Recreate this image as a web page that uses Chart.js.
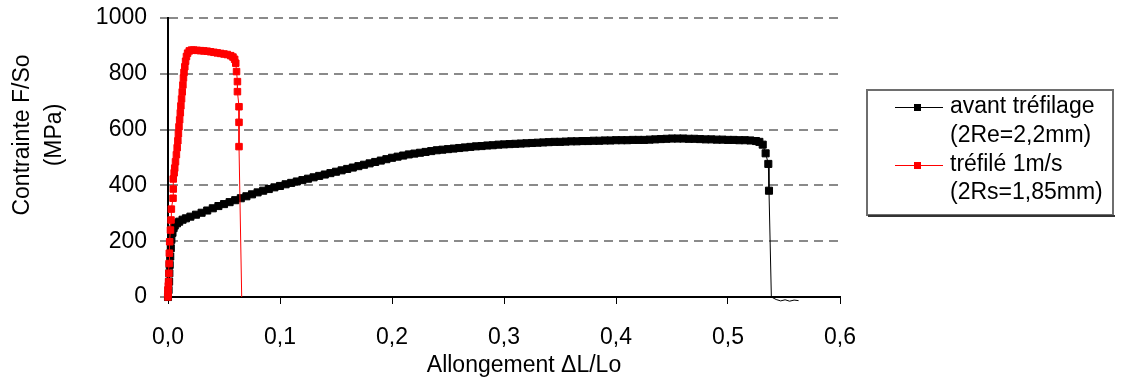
<!DOCTYPE html>
<html>
<head>
<meta charset="utf-8">
<title>Contrainte - allongement</title>
<script src="https://cdn.jsdelivr.net/npm/chart.js@4.4.1/dist/chart.umd.min.js"></script>
<style>
  html, body { margin: 0; padding: 0; background: #fff; }
  canvas { display: block; }
</style>
</head>
<body>
<canvas id="chart" width="1134" height="382"></canvas>
<script>
// avant tréfilage (2Re=2,2mm)
const xAvant = [
  0, 0.0005, 0.001, 0.0012, 0.0015, 0.002, 0.0025, 0.003, 0.004, 0.005,
  0.006, 0.008, 0.010, 0.013, 0.016, 0.020, 0.025,
  0.030, 0.035, 0.040, 0.045, 0.050, 0.055, 0.060, 0.065, 0.070, 0.075,
  0.080, 0.085, 0.090, 0.095, 0.100, 0.105, 0.110, 0.115, 0.120, 0.125,
  0.130, 0.135, 0.140, 0.145, 0.150, 0.155, 0.160, 0.165, 0.170, 0.175,
  0.180, 0.185, 0.190, 0.195, 0.200, 0.205, 0.210, 0.215, 0.220, 0.225,
  0.230, 0.235, 0.240, 0.245, 0.250, 0.255, 0.260, 0.265, 0.270, 0.275,
  0.280, 0.285, 0.290, 0.295, 0.300, 0.305, 0.310, 0.315, 0.320, 0.325,
  0.330, 0.335, 0.340, 0.345, 0.350, 0.355, 0.360, 0.365, 0.370, 0.375,
  0.380, 0.385, 0.390, 0.395, 0.400, 0.405, 0.410, 0.415, 0.420, 0.425,
  0.430, 0.435, 0.440, 0.445, 0.450, 0.455, 0.460, 0.465, 0.470, 0.475,
  0.480, 0.485, 0.490, 0.495, 0.500, 0.505, 0.510, 0.515, 0.520, 0.525,
  0.528, 0.531, 0.5336, 0.536, 0.5366, 0.5387, 0.543, 0.547, 0.551, 0.555, 0.559, 0.563
];
const yAvant = [
  0, 25, 55, 85, 115, 145, 175, 205, 230, 247,
  256, 264, 270, 277, 282, 288, 295,
  302, 310, 318, 326, 333, 340, 347, 354, 361, 368,
  375, 381, 387, 393, 398, 404, 409, 414, 419, 424,
  429, 434, 439, 444, 449, 454, 459, 464, 469, 474,
  479, 484, 489, 494, 499, 503, 507, 511, 514, 517,
  520, 523, 526, 528, 530, 532, 534, 536, 538, 540,
  541, 543, 544, 546, 547, 548, 549, 550, 551, 552,
  553, 554, 555, 556, 556, 557, 558, 558, 559, 559,
  560, 560, 561, 561, 562, 562, 562, 563, 563, 563,
  564, 565, 566, 567, 568, 568, 568, 567, 567, 566,
  565, 565, 564, 564, 563, 563, 562, 562, 561, 559,
  556, 546, 515, 477, 381, 0, -9, -14, -10, -15, -11, -13
];

// tréfilé 1m/s (2Rs=1,85mm)
const xTrefile = [
  0, 0, 0, 0.0003, 0.0005, 0.0008, 0.001, 0.0012, 0.0015, 0.0022,
  0.0027, 0.003, 0.0045, 0.0047, 0.0047, 0.0055, 0.006, 0.0067, 0.0075, 0.0082,
  0.0088, 0.0093, 0.0098, 0.0104, 0.011, 0.0115, 0.0121, 0.0127, 0.0133, 0.0138,
  0.0143, 0.015, 0.0157, 0.0165, 0.0175, 0.019, 0.021, 0.023, 0.026, 0.029,
  0.032, 0.035, 0.038, 0.041, 0.044, 0.047, 0.050, 0.053, 0.056, 0.058,
  0.0595, 0.0605, 0.0612, 0.062, 0.062, 0.0634, 0.0634, 0.0634, 0.0658
];
const yTrefile = [
  0, 12, 25, 40, 55, 85, 120, 157, 198, 240,
  276, 315, 354, 387, 423, 445, 462, 485, 510, 535,
  560, 585, 610, 635, 660, 685, 710, 735, 760, 785,
  805, 825, 845, 862, 874, 882, 885, 885, 884, 883,
  882, 881, 879, 877, 875, 873, 871, 869, 865, 860,
  852, 838, 808, 772, 736, 682, 626, 539, 0
];

const xTickLabels = ['0,0', '0,1', '0,2', '0,3', '0,4', '0,5', '0,6'];
const yTickLabels = ['0', '200', '400', '600', '800', '1000'];
const labelAvant = ['avant tréfilage', '(2Re=2,2mm)'];
const labelTrefile = ['tréfilé 1m/s', '(2Rs=1,85mm)'];
const xTitle = 'Allongement ΔL/Lo';
const yTitle = ['Contrainte F/So', '(MPa)'];

const FONT = '"Liberation Sans", Arial, sans-serif';

const toPoints = (xs, ys) => xs.map((x, i) => ({ x: x, y: ys[i] }));
const markerSize = r => c => (c.raw && c.raw.x > 0.05 && c.raw.y <= 0) ? 0 : r;

// axis titles and the boxed legend, drawn on top
const overlay = {
  id: 'overlay',
  afterDraw(chart) {
    const c = chart.ctx;
    c.save();
    c.font = '23px ' + FONT;
    c.fillStyle = '#000';
    c.textAlign = 'center';
    c.textBaseline = 'middle';
    c.fillText(xTitle, 524, 366);
    [23, 55].forEach((x, i) => {
      c.save();
      c.translate(x, 135);
      c.rotate(-Math.PI / 2);
      c.fillText(yTitle[i], 0, 0);
      c.restore();
    });

    // legend box
    c.fillStyle = '#fff';
    c.fillRect(867, 90, 246, 125);
    c.strokeStyle = '#6e6e6e';
    c.lineWidth = 2;
    c.strokeRect(867, 90, 246, 125);
    c.fillStyle = '#333';
    c.fillRect(868, 215, 247, 2);

    const entries = [
      { lines: labelAvant, ys: [107, 136], ds: chart.data.datasets[0] },
      { lines: labelTrefile, ys: [165, 193], ds: chart.data.datasets[1] }
    ];
    entries.forEach(e => {
      const y = e.ys[0];
      c.strokeStyle = e.ds.borderColor;
      c.lineWidth = 1;
      c.beginPath();
      c.moveTo(895, y + 0.5);
      c.lineTo(943, y + 0.5);
      c.stroke();
      c.fillStyle = e.ds.pointBackgroundColor;
      c.fillRect(914, y - 3, 7, 7);
      c.fillStyle = '#000';
      c.textAlign = 'left';
      e.lines.forEach((t, i) => c.fillText(t, 950, e.ys[i]));
    });
    c.restore();
  }
};

new Chart(document.getElementById('chart'), {
  type: 'line',
  data: {
    datasets: [
      {
        label: labelAvant.join(' '),
        data: toPoints(xAvant, yAvant),
        borderColor: '#000',
        backgroundColor: '#000',
        pointBackgroundColor: '#000',
        pointBorderColor: '#000',
        borderWidth: 1,
        pointStyle: 'rect',
        pointRadius: markerSize(5),
        pointBorderWidth: 1,
        clip: false,
        order: 1
      },
      {
        label: labelTrefile.join(' '),
        data: toPoints(xTrefile, yTrefile),
        borderColor: '#ff0000',
        backgroundColor: '#ff0000',
        pointBackgroundColor: '#ff0000',
        pointBorderColor: '#ff0000',
        borderWidth: 1,
        pointStyle: 'rect',
        pointRadius: markerSize(4.6),
        pointBorderWidth: 1,
        clip: false,
        order: 0
      }
    ]
  },
  options: {
    responsive: false,
    animation: false,
    devicePixelRatio: 1,
    layout: { padding: { left: 0, right: 294, top: 18, bottom: 0 } },
    elements: { line: { tension: 0 } },
    plugins: {
      legend: { display: false },
      tooltip: { enabled: false }
    },
    scales: {
      x: {
        type: 'linear',
        min: 0,
        max: 0.6,
        afterFit: s => { s.height = 85; s.paddingLeft = 0; s.paddingRight = 0; },
        ticks: {
          stepSize: 0.1,
          padding: 20,
          color: '#000',
          font: { family: FONT, size: 23 },
          callback: (v, i) => xTickLabels[i]
        },
        grid: {
          drawOnChartArea: false,
          drawTicks: true,
          tickLength: 7,
          tickColor: '#000',
          tickWidth: 1
        },
        border: { display: true, color: '#000', width: 2 }
      },
      y: {
        min: 0,
        max: 1000,
        afterFit: s => { s.width = 168; s.paddingTop = 0; s.paddingBottom = 0; },
        ticks: {
          stepSize: 200,
          padding: 13,
          color: '#000',
          font: { family: FONT, size: 23 },
          callback: (v, i) => yTickLabels[i]
        },
        grid: {
          color: '#8a8a8a',
          lineWidth: 2,
          drawTicks: true,
          tickLength: 8
        },
        border: { display: true, color: '#000', width: 2, dash: [9, 6] }
      }
    }
  },
  plugins: [overlay]
});
</script>
</body>
</html>
